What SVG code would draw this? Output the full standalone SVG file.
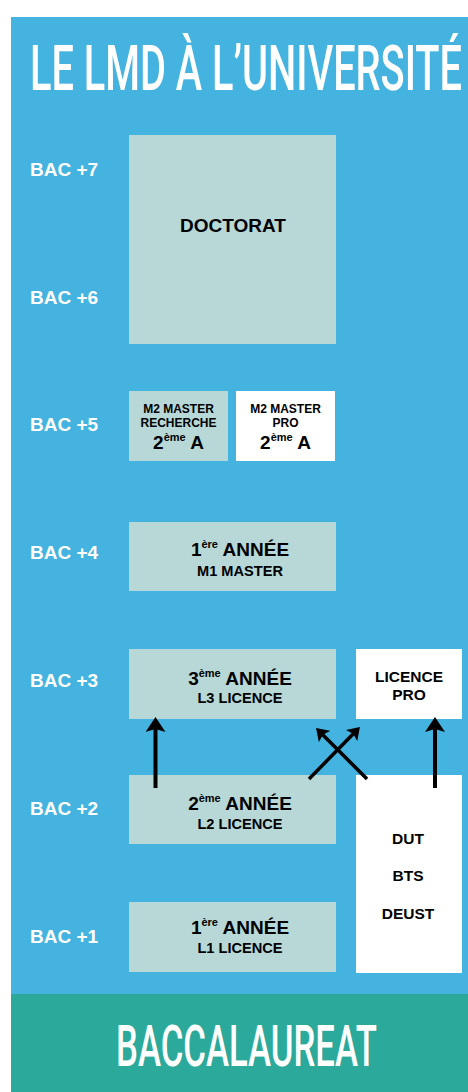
<svg xmlns="http://www.w3.org/2000/svg" width="468" height="1092" viewBox="0 0 468 1092">
<style>
.bac{font-family:"Liberation Sans",Arial,sans-serif;font-weight:700;font-size:19px;fill:#fff}
.t{font-family:"Liberation Sans",Arial,sans-serif;font-weight:700;fill:#000;text-anchor:middle}
.big{font-size:19px}
.sub{font-size:14.6px}
.sm{font-size:12px}
.mid{font-size:15.5px}
.head{font-family:Roboto,"Liberation Sans",sans-serif;font-weight:500;fill:#fff}
.box{fill:#b7d8d6}
.wbox{fill:#fff}
.conn{stroke:#000;fill:none}
</style>
<defs>
<marker id="ah" viewBox="0 0 15 20" refX="8" refY="10" markerWidth="15" markerHeight="20" markerUnits="userSpaceOnUse" orient="auto"><path d="M0,0 L15,10 L0,20 L3,10 Z" fill="#000"/></marker>
<marker id="ahs" viewBox="0 0 15 20" refX="8" refY="10" markerWidth="12" markerHeight="16" markerUnits="userSpaceOnUse" orient="auto"><path d="M0,0 L15,10 L0,20 L3,10 Z" fill="#000"/></marker>
</defs>
<rect x="0" y="0" width="468" height="1092" fill="#fff"/>
<rect x="11" y="17" width="457" height="977" fill="#44b3e0"/>
<rect x="11" y="994" width="457" height="98" fill="#2baa9c"/>
<g id="title"><text class="head" transform="translate(30,90) scale(0.63,1)" x="0" y="0" font-size="63" textLength="685.7" lengthAdjust="spacingAndGlyphs">LE LMD À L’UNIVERSITÉ</text></g>
<g id="bac-labels">
<text class="bac" x="30" y="176">BAC +7</text>
<text class="bac" x="30" y="304">BAC +6</text>
<text class="bac" x="30" y="431">BAC +5</text>
<text class="bac" x="30" y="559">BAC +4</text>
<text class="bac" x="30" y="687">BAC +3</text>
<text class="bac" x="30" y="815">BAC +2</text>
<text class="bac" x="30" y="943">BAC +1</text>
</g>
<g id="doctorat"><rect class="box" x="129" y="135" width="207" height="209"/><text class="t big" x="233" y="232">DOCTORAT</text></g>
<g id="m2-recherche"><rect class="box" x="129" y="391" width="99" height="70"/>
<text class="t sm" x="178.5" y="413">M2 MASTER</text>
<text class="t sm" x="178.5" y="427">RECHERCHE</text>
<text class="t big" x="178.5" y="449">2<tspan font-size="11" dy="-8">ème</tspan><tspan dy="8"> A</tspan></text></g>
<g id="m2-pro"><rect class="wbox" x="236" y="391" width="99" height="70"/>
<text class="t sm" x="285.5" y="413">M2 MASTER</text>
<text class="t sm" x="285.5" y="427">PRO</text>
<text class="t big" x="285.5" y="449">2<tspan font-size="11" dy="-8">ème</tspan><tspan dy="8"> A</tspan></text></g>
<g id="m1"><rect class="box" x="129" y="522" width="207" height="69"/>
<text class="t big" x="240" y="556">1<tspan font-size="11" dy="-8">ère</tspan><tspan dy="8"> ANNÉE</tspan></text>
<text class="t sub" x="240" y="576">M1 MASTER</text></g>
<g id="l3"><rect class="box" x="129" y="649" width="207" height="70"/>
<text class="t big" x="240" y="685">3<tspan font-size="11" dy="-8">ème</tspan><tspan dy="8"> ANNÉE</tspan></text>
<text class="t sub" x="240" y="703">L3 LICENCE</text></g>
<g id="licence-pro"><rect class="wbox" x="356" y="649" width="106" height="70"/>
<text class="t mid" x="409" y="682">LICENCE</text>
<text class="t mid" x="409" y="700">PRO</text></g>
<g id="l2"><rect class="box" x="129" y="775" width="207" height="69"/>
<text class="t big" x="240" y="810">2<tspan font-size="11" dy="-8">ème</tspan><tspan dy="8"> ANNÉE</tspan></text>
<text class="t sub" x="240" y="829">L2 LICENCE</text></g>
<g id="dut-bts-deust"><rect class="wbox" x="356" y="775" width="106" height="198"/>
<text class="t mid" x="408" y="844">DUT</text>
<text class="t mid" x="408" y="881">BTS</text>
<text class="t mid" x="408" y="919">DEUST</text></g>
<g id="l1"><rect class="box" x="129" y="902" width="207" height="70"/>
<text class="t big" x="240" y="934">1<tspan font-size="11" dy="-8">ère</tspan><tspan dy="8"> ANNÉE</tspan></text>
<text class="t sub" x="240" y="953">L1 LICENCE</text></g>
<g id="baccalaureat"><text class="head" transform="translate(116,1066) scale(0.596,1)" x="0" y="0" font-size="58" textLength="437.9" lengthAdjust="spacingAndGlyphs">BACCALAUREAT</text></g>
<g id="connectors">
<path class="conn" stroke-width="4" d="M155.5,788 L155.5,724" marker-end="url(#ah)"/>
<path class="conn" stroke-width="4" d="M435,788 L435,724" marker-end="url(#ah)"/>
<path class="conn" stroke-width="3.5" d="M367,779 L320,732" marker-end="url(#ahs)"/>
<path class="conn" stroke-width="3.5" d="M309,779 L356,731" marker-end="url(#ahs)"/>
</g>
</svg>
